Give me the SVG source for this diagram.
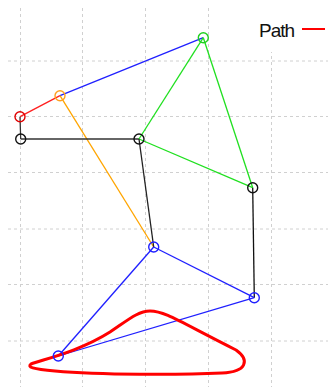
<svg xmlns="http://www.w3.org/2000/svg" width="328" height="387" viewBox="0 0 328 387">
<style>
.grid line{stroke:#d0d0d0;stroke-width:1;stroke-dasharray:3,3}
.e{fill:none;stroke-width:1.3}
.n{fill:none;stroke-width:1.4}
</style>
<rect width="328" height="387" fill="#fff"/>
<g class="grid">
<line x1="20.5" y1="8" x2="20.5" y2="387"/>
<line x1="82.5" y1="8" x2="82.5" y2="387"/>
<line x1="145.5" y1="8" x2="145.5" y2="387"/>
<line x1="208.5" y1="8" x2="208.5" y2="387"/>
<line x1="271.5" y1="8" x2="271.5" y2="387"/>
<line x1="8" y1="61" x2="328" y2="61"/>
<line x1="8" y1="116.5" x2="328" y2="116.5"/>
<line x1="8" y1="172.5" x2="328" y2="172.5"/>
<line x1="8" y1="229" x2="328" y2="229"/>
<line x1="8" y1="284.5" x2="328" y2="284.5"/>
<line x1="8" y1="341" x2="328" y2="341"/>
</g>
<g id="legend">
<rect x="240" y="8" width="88" height="44" fill="#fff"/>
<text x="259" y="36.5" font-family="Liberation Sans, Arial, sans-serif" font-size="19" textLength="36" fill="#111">Path</text>
<line x1="302" y1="29" x2="325" y2="29" stroke="#ff0000" stroke-width="2"/>
</g>
<g id="connectors">
<line class="e" x1="20" y1="116.7" x2="60" y2="95.7" stroke="#ff2020"/>
<line class="e" x1="60" y1="95.7" x2="203.3" y2="37.7" stroke="#2020ff"/>
<line class="e" x1="60" y1="95.7" x2="153.7" y2="247" stroke="#ffa500"/>
<line class="e" x1="20" y1="116.7" x2="20.7" y2="139" stroke="#333" stroke-width="2"/>
<line class="e" x1="20.7" y1="139" x2="139" y2="139" stroke="#333" stroke-width="2"/>
<line class="e" x1="203.3" y1="37.7" x2="139" y2="139" stroke="#20e020"/>
<line class="e" x1="203.3" y1="37.7" x2="252.7" y2="187.7" stroke="#20e020"/>
<line class="e" x1="139" y1="139" x2="252.7" y2="187.7" stroke="#20e020"/>
<line class="e" x1="139" y1="139" x2="153.7" y2="247" stroke="#222" stroke-width="1.6"/>
<line class="e" x1="252.7" y1="187.7" x2="254.3" y2="297.7" stroke="#111"/>
<line class="e" x1="153.7" y1="247" x2="254.3" y2="297.7" stroke="#2020ff"/>
<line class="e" x1="153.7" y1="247" x2="58.3" y2="356" stroke="#2020ff"/>
<line class="e" x1="58.3" y1="356" x2="254.3" y2="297.7" stroke="#2020ff"/>
</g>
<g id="path-curve">
<path d="M31,364 C45,359 80,351 110,332 C128,320 138,311 150,311 C165,311 180,322 236,350 C250,360 247,372 222,373 C180,375 100,375 55,371 C32,369 27,367 31,364 Z" fill="none" stroke="#ff0000" stroke-width="3"/>
</g>
<g id="n-red"><circle class="n" cx="20" cy="116.7" r="5" stroke="#e00000"/></g>
<g id="n-orange"><circle class="n" cx="60" cy="95.7" r="5" stroke="#ffa020"/></g>
<g id="n-green"><circle class="n" cx="203.3" cy="37.7" r="5" stroke="#20d020"/></g>
<g id="n-black-left"><circle class="n" cx="20.7" cy="139" r="5" stroke="#111"/></g>
<g id="n-black-mid"><circle class="n" cx="139" cy="139" r="5" stroke="#111"/></g>
<g id="n-black-right"><circle class="n" cx="252.7" cy="187.7" r="5" stroke="#111"/></g>
<g id="n-blue-mid"><circle class="n" cx="153.7" cy="247" r="5" stroke="#2020ff"/></g>
<g id="n-blue-right"><circle class="n" cx="254.3" cy="297.7" r="5" stroke="#2020ff"/></g>
<g id="n-blue-left"><circle class="n" cx="58.3" cy="356" r="5" stroke="#2020ff"/></g>
</svg>
